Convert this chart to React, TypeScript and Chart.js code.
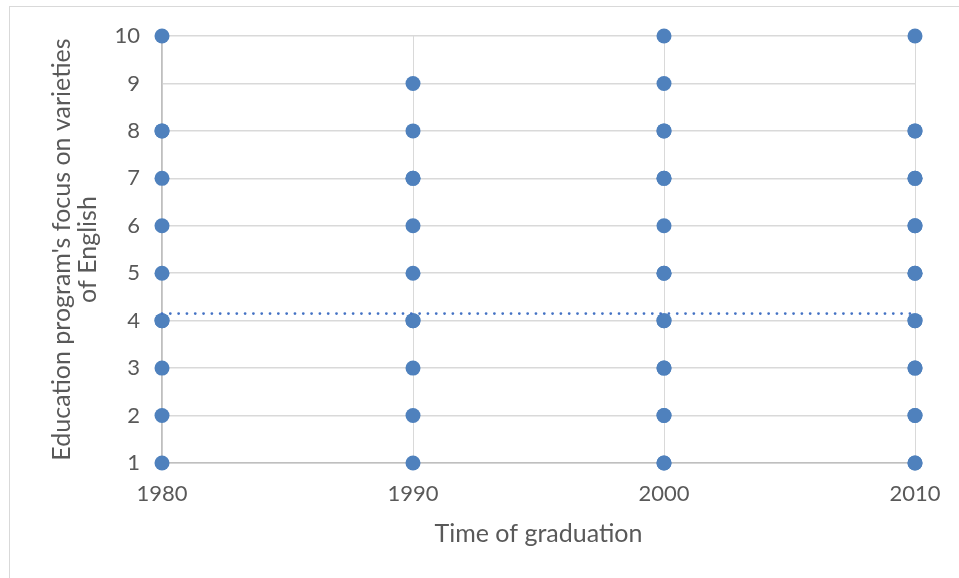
import React, { useEffect, useRef } from "react";
import { Chart, registerables } from "chart.js";

Chart.register(...registerables);

const xTicks = [1980, 1990, 2000, 2010];
const yTicks = [1, 2, 3, 4, 5, 6, 7, 8, 9, 10];
const values1980 = [1, 2, 3, 4, 4, 5, 6, 7, 8, 8, 10];
const values1990 = [1, 2, 3, 4, 4, 5, 6, 7, 7, 8, 9];
const values2000 = [1, 1, 2, 2, 3, 3, 4, 4, 5, 5, 6, 7, 7, 8, 8, 9, 10];
const values2010 = [1, 1, 2, 2, 3, 3, 4, 4, 5, 5, 6, 6, 7, 7, 8, 8, 10];
const trendX = [1980, 2010];
const trendY = [4.15, 4.15];
const xTitle = "Time of graduation";
const yTitle = ["Education program's focus on varieties", "of English"];

const FONT = "Lato";
const TEXT = "#595959";
const POINT = "#4F81BD";

export default function App() {
  const ref = useRef<HTMLCanvasElement | null>(null);
  useEffect(() => {
    if (!ref.current) return;
    const pts: { x: number; y: number }[] = [];
    const add = (year: number, vals: number[]) => vals.forEach((v) => pts.push({ x: year, y: v }));
    add(xTicks[0], values1980);
    add(xTicks[1], values1990);
    add(xTicks[2], values2000);
    add(xTicks[3], values2010);
    const chart = new Chart(ref.current, {
      type: "scatter",
      data: {
        datasets: [
          {
            type: "line",
            data: trendX.map((x, i) => ({ x, y: trendY[i] })),
            borderColor: "#4472C4",
            borderWidth: 2.8,
            borderDash: [0.01, 8.3],
            borderCapStyle: "round",
            pointRadius: 0,
            fill: false,
            clip: false,
          } as any,
          {
            data: pts,
            backgroundColor: POINT,
            borderColor: POINT,
            pointRadius: 7.5,
            borderWidth: 0,
            clip: false,
          } as any,
        ],
      },
      options: {
        responsive: false,
        animation: false,
        devicePixelRatio: 1,
        layout: { padding: { top: 36, right: 44, bottom: 0, left: 0 } },
        plugins: { legend: { display: false }, tooltip: { enabled: false } },
        scales: {
          x: {
            type: "linear",
            min: 1980,
            max: 2010,
            afterFit: (s: any) => { s.height = 115; },
            afterBuildTicks: (s: any) => { s.ticks = xTicks.map((v) => ({ value: v })); },
            ticks: {
              color: TEXT,
              font: { family: FONT, size: 22 },
              padding: 18,
              callback: (v: any) => String(v),
            },
            grid: { color: "#d9d9d9", lineWidth: 1, drawTicks: false },
            border: { color: "#bfbfbf", width: 1.5 },
            title: {
              display: true,
              text: xTitle,
              color: TEXT,
              font: { family: FONT, size: 25 },
              padding: { top: 0, bottom: 29 },
            },
          },
          y: {
            type: "linear",
            min: 1,
            max: 10,
            afterFit: (s: any) => { s.width = 162; },
            afterBuildTicks: (s: any) => { s.ticks = yTicks.map((v) => ({ value: v })); },
            ticks: {
              color: TEXT,
              font: { family: FONT, size: 22 },
              padding: 22,
            },
            grid: { color: "#d9d9d9", lineWidth: 1.5, drawTicks: false },
            border: { color: "#bfbfbf", width: 1.5 },
            title: {
              display: true,
              text: yTitle,
              color: TEXT,
              font: { family: FONT, size: 25, lineHeight: 1.04 },
              padding: { top: 49, bottom: 0 },
            },
          },
        },
      },
    });
    return () => chart.destroy();
  }, []);
  return (
    <div style={{ position: "fixed", left: 0, top: 0, width: 959, height: 578, overflow: "hidden", background: "#fff" }}>
      <div style={{ position: "absolute", left: 9, top: 6, width: 960, height: 600, border: "1px solid #d9d9d9" }} />
      <canvas ref={ref} width={959} height={578} style={{ position: "absolute", left: 0, top: 0 }} />
    </div>
  );
}
